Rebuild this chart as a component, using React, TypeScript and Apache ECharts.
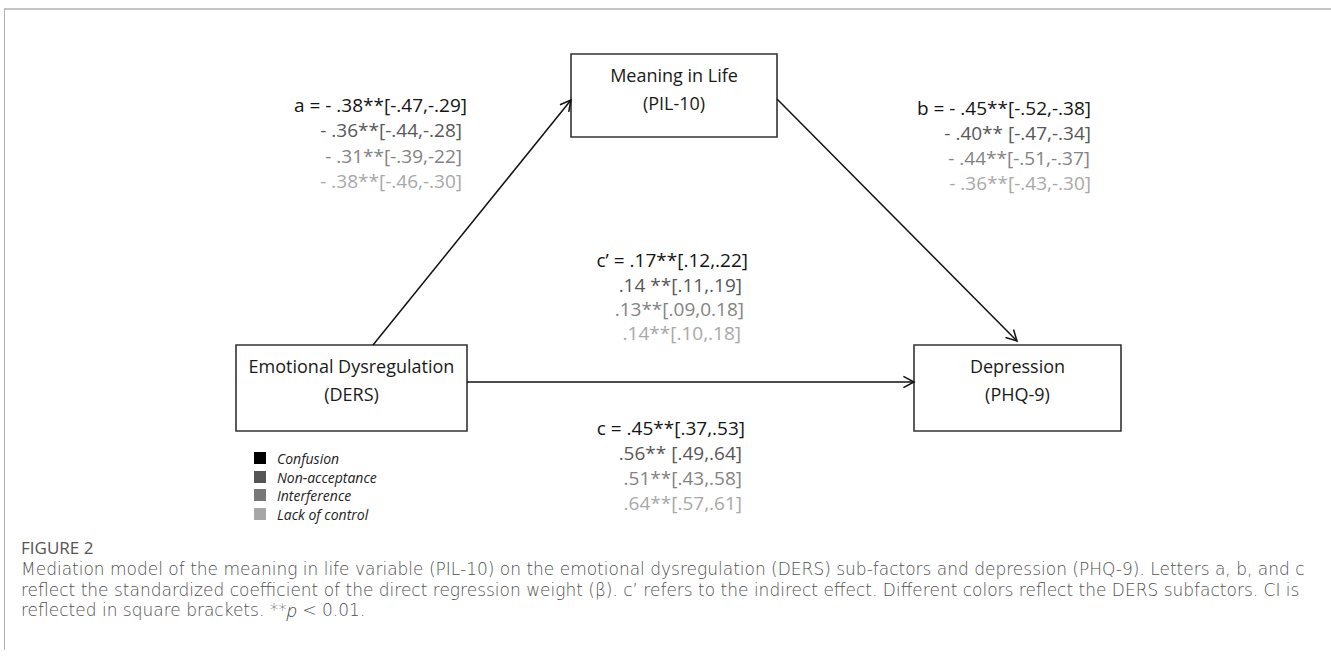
import React, { useEffect, useRef } from "react";
import * as echarts from "echarts";

// ---- data ----
const nodeTitles = ["Meaning in Life", "Emotional Dysregulation", "Depression"];
const nodeCodes = ["(PIL-10)", "(DERS)", "(PHQ-9)"];
const pathA = ["a = - .38**[-.47,-.29]", "- .36**[-.44,-.28]", "- .31**[-.39,-22]", "- .38**[-.46,-.30]"];
const pathB = ["b = - .45**[-.52,-.38]", "- .40** [-.47,-.34]", "- .44**[-.51,-.37]", "- .36**[-.43,-.30]"];
const pathCPrime = ["c\u2019 = .17**[.12,.22]", ".14 **[.11,.19]", ".13**[.09,0.18]", ".14**[.10,.18]"];
const pathC = ["c = .45**[.37,.53]", ".56** [.49,.64]", ".51**[.43,.58]", ".64**[.57,.61]"];
const subfactors = ["Confusion", "Non-acceptance", "Interference", "Lack of control"];
const shades = ["#141414", "#575757", "#838383", "#a8a8a8"];
const legendShades = ["#000000", "#555555", "#777777", "#a6a6a6"];
const figureLabel = "FIGURE 2";
const captionLines = [
  "Mediation model of the meaning in life variable (PIL-10) on the emotional dysregulation (DERS) sub-factors and depression (PHQ-9). Letters a, b, and c",
  "reflect the standardized coefficient of the direct regression weight (\u03b2). c\u2019 refers to the indirect effect. Different colors reflect the DERS subfactors. CI is",
  "reflected in square brackets. **{i|p} < 0.01.",
];

// ---- layout ----
const FONT = "'Open Sans', 'Noto Sans', sans-serif";
const CAPFONT = "'DejaVu Sans', 'Open Sans', sans-serif";
const boxes = [
  { x: 571, y: 54, w: 206, h: 83 },
  { x: 236, y: 345, w: 231, h: 86 },
  { x: 914, y: 345, w: 207, h: 86 },
];
const arrows = [
  [373, 345, 571, 100],
  [777, 99, 1017, 341],
  [467, 382, 914, 382],
];
const coefBlocks = [
  { lines: pathA, rights: [467, 462, 462, 462], ys: [105, 130, 156, 181] },
  { lines: pathB, rights: [1091, 1091, 1090, 1091], ys: [108, 133, 158, 183] },
  { lines: pathCPrime, rights: [748, 742, 744, 741], ys: [260, 285, 309, 333] },
  { lines: pathC, rights: [745, 742, 742, 742], ys: [428, 453, 478, 503] },
];

function txt(text: string, x: number, y: number, opts: any) {
  const align = opts.align || "left";
  const vAlign = opts.vAlign || "middle";
  const style: any = {
    text,
    x,
    y,
    fill: opts.fill || "#111",
    fontSize: opts.fontSize || 16,
    fontFamily: opts.fontFamily || FONT,
    fontStyle: opts.fontStyle || "normal",
    fontWeight: opts.fontWeight || "normal",
    align,
    textAlign: align,
    verticalAlign: vAlign,
    textVerticalAlign: vAlign,
  };
  if (opts.rich) style.rich = opts.rich;
  if (opts.lineHeight) style.lineHeight = opts.lineHeight;
  return { type: "text", silent: true, style };
}

function arrowElems(a: number[]) {
  const [x1, y1, x2, y2] = a;
  const dx = x2 - x1;
  const dy = y2 - y1;
  const len = Math.hypot(dx, dy);
  const ux = dx / len;
  const uy = dy / len;
  const L = 12;
  const ang = (28 * Math.PI) / 180;
  const c = Math.cos(ang);
  const s = Math.sin(ang);
  const p1 = [x2 - L * (ux * c - uy * s), y2 - L * (uy * c + ux * s)];
  const p2 = [x2 - L * (ux * c + uy * s), y2 - L * (uy * c - ux * s)];
  return [
    { type: "line", silent: true, shape: { x1, y1, x2, y2 }, style: { stroke: "#111", lineWidth: 1.5 } },
    { type: "polyline", silent: true, shape: { points: [p1, [x2, y2], p2] }, style: { stroke: "#111", lineWidth: 1.5, fill: null } },
  ];
}

export default function App() {
  const ref = useRef<HTMLDivElement>(null);
  useEffect(() => {
    if (!ref.current) return;
    const chart = echarts.init(ref.current, null, { renderer: "svg" });
    const elements: any[] = [];
    // frame
    elements.push({ type: "line", silent: true, shape: { x1: 4, y1: 9, x2: 1331, y2: 9 }, style: { stroke: "#b0b0b0", lineWidth: 1.5 } });
    elements.push({ type: "line", silent: true, shape: { x1: 4.5, y1: 9, x2: 4.5, y2: 650 }, style: { stroke: "#b0b0b0", lineWidth: 1 } });
    // boxes
    boxes.forEach((b, i) => {
      elements.push({ type: "rect", silent: true, shape: { x: b.x, y: b.y, width: b.w, height: b.h }, style: { fill: "#fff", stroke: "#333", lineWidth: 1.6 } });
      const cx = b.x + b.w / 2;
      elements.push(txt(nodeTitles[i], cx, b.y + 21, { align: "center", fontSize: 18, fill: "#1a1a1a" }));
      elements.push(txt(nodeCodes[i], cx, b.y + 49, { align: "center", fontSize: 18, fill: "#1a1a1a" }));
    });
    // arrows
    arrows.forEach((a) => elements.push(...arrowElems(a)));
    // coefficients
    coefBlocks.forEach((blk) => {
      blk.lines.forEach((l, k) => {
        elements.push(txt(l, blk.rights[k], blk.ys[k], { align: "right", fontSize: 19, fill: shades[k] }));
      });
    });
    // legend
    subfactors.forEach((s, k) => {
      const cy = [458, 477, 495, 514][k];
      elements.push({ type: "rect", silent: true, shape: { x: 254, y: cy - 6, width: 12, height: 12 }, style: { fill: legendShades[k] } });
      elements.push(txt(s, 277, cy, { fontSize: 14, fontStyle: "italic", fill: "#222", lineHeight: 17 }));
    });
    // caption
    elements.push(txt(figureLabel, 21, 547, { fontSize: 17, fill: "#555", lineHeight: 18 }));
    captionLines.forEach((l, k) => {
      elements.push(
        txt(l, 21, 569 + k * 20.5, {
          fontSize: 17,
          fontWeight: 200,
          fontFamily: CAPFONT,
          fill: "#505050",
          lineHeight: 19,
          rich: { i: { fontStyle: "italic", fontSize: 18, fontWeight: 300, fill: "#505050", fontFamily: FONT, lineHeight: 19 } },
        })
      );
    });
    chart.setOption({ animation: false, graphic: { elements } });
    return () => chart.dispose();
  }, []);
  return <div ref={ref} style={{ position: "fixed", left: 0, top: 0, width: 1331, height: 659, background: "#fff" }} />;
}
